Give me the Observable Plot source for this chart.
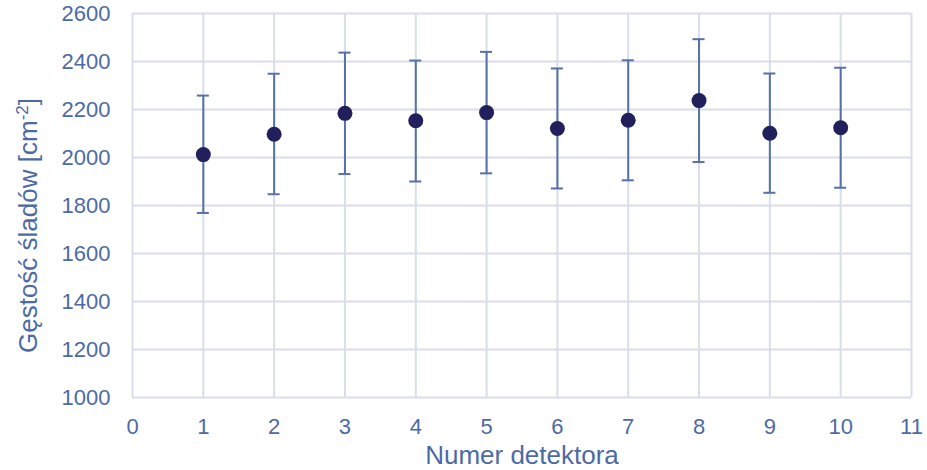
<!DOCTYPE html>
<html>
<head>
<meta charset="utf-8">
<script src="https://cdn.jsdelivr.net/npm/d3@7"></script>
<script src="https://cdn.jsdelivr.net/npm/@observablehq/plot@0.6"></script>
<style>
  html, body { margin: 0; padding: 0; background: #fff; }
  svg { font-family: "Liberation Sans", Arial, sans-serif; }
</style>
</head>
<body>
<div id="chart"></div>
<script>
const detectors = [1, 2, 3, 4, 5, 6, 7, 8, 9, 10];
const density = [2012, 2097, 2184, 2153, 2187, 2121, 2155, 2237, 2101, 2124];
const errLow = [243, 250, 253, 253, 253, 250, 250, 256, 248, 250];
const errHigh = [246, 252, 253, 251, 253, 250, 250, 256, 249, 250];
const xTicks = [0, 1, 2, 3, 4, 5, 6, 7, 8, 9, 10, 11];
const yTicks = [1000, 1200, 1400, 1600, 1800, 2000, 2200, 2400, 2600];
const xLabel = "Numer detektora";
const yLabel = "Gęstość śladów [cm-2]";

const data = detectors.map((d, i) => ({
  x: d, y: density[i], lo: density[i] - errLow[i], hi: density[i] + errHigh[i]
}));

const textColor = "#4d6aa5";
const gridColor = "#d9dee9";
const barColor = "#5571a8";
const dotColor = "#22205c";

const chart = Plot.plot({
  width: 927,
  height: 470,
  marginLeft: 132,
  marginRight: 16,
  marginTop: 13,
  marginBottom: 73,
  style: { fontFamily: "Liberation Sans, Arial, sans-serif", fontSize: "22px", color: textColor, background: "#fff" },
  x: { domain: [0, 11] },
  y: { domain: [1000, 2600] },
  marks: [
    Plot.gridX(xTicks, { stroke: gridColor, strokeOpacity: 1, strokeWidth: 2 }),
    Plot.gridY(yTicks, { stroke: gridColor, strokeOpacity: 1, strokeWidth: 2 }),
    Plot.axisX(xTicks, { tickSize: 0, tickPadding: 21, fontSize: 22, fill: textColor, label: null, tickFormat: d3.format("d") }),
    Plot.axisY(yTicks, { tickSize: 0, tickPadding: 22, fontSize: 22, fill: textColor, label: null, tickFormat: d3.format("d") }),
    Plot.ruleX(data, { x: "x", y1: "lo", y2: "hi", stroke: barColor, strokeWidth: 2 }),
    Plot.ruleY(data, { y: "lo", x1: d => d.x - 0.085, x2: d => d.x + 0.085, stroke: barColor, strokeWidth: 2 }),
    Plot.ruleY(data, { y: "hi", x1: d => d.x - 0.085, x2: d => d.x + 0.085, stroke: barColor, strokeWidth: 2 }),
    Plot.dot(data, { x: "x", y: "y", r: 7.5, fill: dotColor, stroke: "none" }),
    Plot.text([xLabel], { frameAnchor: "bottom", dy: 66, fontSize: 26, fill: textColor, textAnchor: "middle", className: "xlab" }),
    Plot.text([yLabel], { frameAnchor: "left", dx: -104, dy: 20, rotate: -90, fontSize: 26, fill: textColor, textAnchor: "middle", className: "ylab" })
  ]
});
document.getElementById("chart").appendChild(chart);

// superscript for the unit in the y label
d3.select(chart).selectAll(".ylab text").each(function () {
  const t = d3.select(this);
  const txt = t.text();
  const m = txt.match(/^(.*\[cm)(-2)(\])$/);
  if (!m) return;
  t.text(null);
  t.append("tspan").text(m[1]);
  t.append("tspan").attr("font-size", "17").attr("baseline-shift", "super").text(m[2]);
  t.append("tspan").text(m[3]);
});
</script>
</body>
</html>
